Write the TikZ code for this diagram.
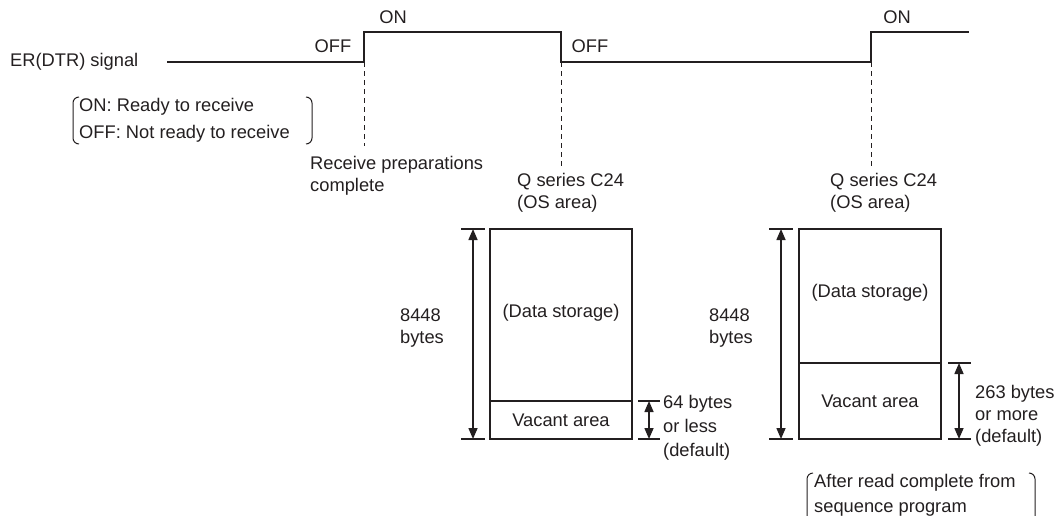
\documentclass[tikz,border=0pt]{standalone}
\usepackage{fontspec}
\setmainfont{Liberation Sans}
\usetikzlibrary{arrows.meta}
\definecolor{ink}{HTML}{231F20}
\tikzset{
  txt/.style={inner sep=0pt, text=ink, font=\fontsize{18.3pt}{22pt}\selectfont},
  sig/.style={draw=ink, line width=2pt},
  dashln/.style={draw=ink, line width=1pt, dash pattern=on 5pt off 4pt},
  membox/.style={draw=ink, line width=1.6pt, inner sep=0pt, text=ink, font=\fontsize{18.3pt}{22pt}\selectfont},
  dimln/.style={draw=ink, line width=1.5pt, {Triangle[length=11pt,width=9pt]}-{Triangle[length=11pt,width=9pt]}},
  tick/.style={draw=ink, line width=1.5pt},
  paren/.style={draw=ink, line width=1pt, rounded corners=6pt}
}
\begin{document}
\begin{tikzpicture}[x=1pt,y=-1pt]
\useasboundingbox (0,0) rectangle (1057,515);
\clip (0,0) rectangle (1057,515);

% signal
\coordinate (s0) at (167,62);
\coordinate (r1) at (364,62);
\coordinate (r1h) at (364,32);
\coordinate (f1h) at (561,32);
\coordinate (f1) at (561,62);
\coordinate (r2) at (871,62);
\coordinate (r2h) at (871,32);
\coordinate (s1) at (969,32);
\draw[sig] (s0) -- (r1) -- (r1h) -- (f1h) -- (f1) -- (r2) -- (r2h) -- (s1);

\node[txt, anchor=west] (sigl) at (10,62) {ER(DTR) signal};
\node[txt] (on1) at (393,17) {ON};
\node[txt] (off1) at (333,46) {OFF};
\node[txt] (off2) at (590,46) {OFF};
\node[txt] (on2) at (897,17) {ON};

% legend
\node[txt, anchor=west] (leg1) at (79,107) {ON: Ready to receive};
\node[txt, anchor=west] (leg2) at (79,134) {OFF: Not ready to receive};
\draw[paren] (79,97) -- (73,97) -- (73,144) -- (79,144);
\draw[paren] (306,97) -- (312,97) -- (312,144) -- (306,144);

% dashed markers
\coordinate (d1b) at (364,146);
\coordinate (d2b) at (561,168);
\coordinate (d3b) at (871,168);
\draw[dashln] (r1) -- (d1b);
\draw[dashln] (f1) -- (d2b);
\draw[dashln] (r2) -- (d3b);

\node[txt, anchor=west, align=left] (rpc) at (310,176) {Receive preparations\\complete};
\node[txt, anchor=west, align=left] (q1) at (517,193) {Q series C24\\(OS area)};
\node[txt, anchor=west, align=left] (q2) at (830,193) {Q series C24\\(OS area)};

% memory box 1
\node[membox, minimum width=142pt, minimum height=172pt] (b1d) at (561,315) {};
\node[membox, minimum width=142pt, minimum height=38pt] (b1v) at (561,420) {Vacant area};
\node[txt] (b1dt) at (561,313) {(Data storage)};
\coordinate (t1a) at (461,229); \coordinate (t1b) at (485,229);
\coordinate (t1c) at (461,439); \coordinate (t1d) at (485,439);
\draw[tick] (t1a) -- (t1b);
\draw[tick] (t1c) -- (t1d);
\draw[dimln] (473,229) -- (473,439);
\node[txt, align=left] (n1) at (422,328) {8448\\bytes};
\coordinate (u1a) at (638,401); \coordinate (u1b) at (660,401);
\coordinate (u1c) at (638,439); \coordinate (u1d) at (660,439);
\draw[tick] (u1a) -- (u1b);
\draw[tick] (u1c) -- (u1d);
\draw[dimln] (649,401) -- (649,439);
\node[txt, anchor=base west] (m1a) at (663,408) {64 bytes};
\node[txt, anchor=base west] (m1b) at (663,432) {or less};
\node[txt, anchor=base west] (m1c) at (663,456) {(default)};

% memory box 2
\node[membox, minimum width=142pt, minimum height=134pt] (b2d) at (870,296) {};
\node[membox, minimum width=142pt, minimum height=76pt] (b2v) at (870,401) {Vacant area};
\node[txt] (b2dt) at (870,293) {(Data storage)};
\coordinate (t2a) at (769,229); \coordinate (t2b) at (793,229);
\coordinate (t2c) at (769,439); \coordinate (t2d) at (793,439);
\draw[tick] (t2a) -- (t2b);
\draw[tick] (t2c) -- (t2d);
\draw[dimln] (781,229) -- (781,439);
\node[txt, align=left] (n2) at (731,328) {8448\\bytes};
\coordinate (u2a) at (948,363); \coordinate (u2b) at (971,363);
\coordinate (u2c) at (948,439); \coordinate (u2d) at (971,439);
\draw[tick] (u2a) -- (u2b);
\draw[tick] (u2c) -- (u2d);
\draw[dimln] (959,363) -- (959,439);
\node[txt, anchor=base west] (m2a) at (975,398) {263 bytes};
\node[txt, anchor=base west] (m2b) at (975,420) {or more};
\node[txt, anchor=base west] (m2c) at (975,442) {(default)};

% bottom note
\node[txt, anchor=base west] (note1) at (814,487) {After read complete from};
\node[txt, anchor=base west] (note2) at (814,512) {sequence program};
\draw[paren] (813,473) -- (807,473) -- (807,530);
\draw[paren] (1029,473) -- (1035,473) -- (1035,530);
\end{tikzpicture}
\end{document}
